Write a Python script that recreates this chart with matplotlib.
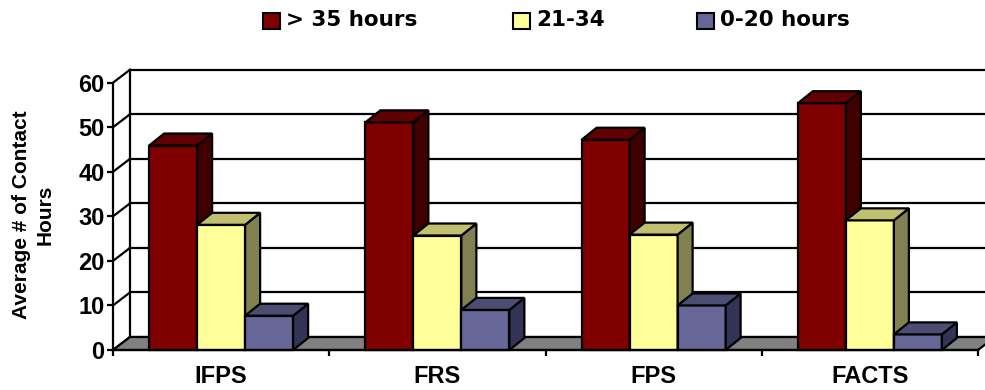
import matplotlib
matplotlib.use("Agg")
import matplotlib.pyplot as plt
from matplotlib.patches import Polygon, Rectangle

plt.rcParams['font.family'] = ['Liberation Sans', 'DejaVu Sans']
plt.rcParams['font.weight'] = 'bold'

categories = ["IFPS", "FRS", "FPS", "FACTS"]
series_names = ["> 35 hours", "21-34", "0-20 hours"]
over_35 = [45.9, 51.1, 47.2, 55.4]
hours_21_34 = [28.1, 25.7, 25.9, 29.1]
hours_0_20 = [7.7, 9.0, 10.0, 3.5]
y_ticks = [0, 10, 20, 30, 40, 50, 60]

series = [over_35, hours_21_34, hours_0_20]
# front, side, top shades per series
face_colors = ["#800000", "#FFFF99", "#666699"]
side_colors = ["#400000", "#808050", "#333355"]
top_colors = ["#600000", "#C0C070", "#4D4D73"]

W, H = 985, 390
fig = plt.figure(figsize=(W / 100, H / 100), dpi=100)
ax = fig.add_axes([113 / W, 40 / H, 865 / W, 267.3 / H])
ax.set_xlim(0, 4)
ax.set_ylim(0, 60)

px_x = 865 / 4          # pixels per category
px_y = 267.3 / 60       # pixels per unit
wall_dx, wall_dy = 17 / px_x, 13 / px_y
bar_dx, bar_dy = 15 / px_x, 12 / px_y
bar_w = 48 / px_x
lw = 1.6

# back wall gridlines and left wall diagonals
for v in y_ticks:
    ax.plot([wall_dx, 4 + wall_dx], [v + wall_dy, v + wall_dy], color="black",
            lw=lw, clip_on=False, zorder=1)
    ax.plot([0, wall_dx], [v, v + wall_dy], color="black", lw=lw,
            clip_on=False, zorder=1)
ax.plot([wall_dx, wall_dx], [wall_dy, 60 + wall_dy], color="black", lw=lw,
        clip_on=False, zorder=1)

# floor
ax.add_patch(Polygon([(0, 0), (4, 0), (4 + wall_dx, wall_dy), (wall_dx, wall_dy)],
                     closed=True, facecolor="#808080", edgecolor="black", lw=lw,
                     clip_on=False, zorder=2))

# 3D-looking bars, drawn left to right
z = 3
for i in range(len(categories)):
    for s, vals in enumerate(series):
        x0 = i + 0.5 - 1.5 * bar_w + s * bar_w
        x1 = x0 + bar_w
        v = vals[i]
        kw = dict(closed=True, edgecolor="black", lw=lw, clip_on=False,
                  joinstyle="miter")
        ax.add_patch(Polygon([(x0, 0), (x1, 0), (x1, v), (x0, v)],
                             facecolor=face_colors[s], zorder=z, **kw))
        ax.add_patch(Polygon([(x1, 0), (x1 + bar_dx, bar_dy),
                              (x1 + bar_dx, v + bar_dy), (x1, v)],
                             facecolor=side_colors[s], zorder=z, **kw))
        ax.add_patch(Polygon([(x0, v), (x1, v), (x1 + bar_dx, v + bar_dy),
                              (x0 + bar_dx, v + bar_dy)],
                             facecolor=top_colors[s], zorder=z, **kw))
        z += 1

# axes
for side in ["top", "right"]:
    ax.spines[side].set_visible(False)
for side in ["left", "bottom"]:
    ax.spines[side].set_linewidth(lw)
    ax.spines[side].set_zorder(50)
ax.patch.set_alpha(0)
ax.set_yticks(y_ticks)
ax.set_yticklabels([str(t) for t in y_ticks], fontsize=17, fontweight="bold")
ax.set_xticks([0, 1, 2, 3, 4])
ax.set_xticklabels([])
ax.set_xticks([0.5, 1.5, 2.5, 3.5], minor=True)
ax.set_xticklabels(categories, minor=True, fontsize=17, fontweight="bold")
ax.tick_params(axis="both", which="major", direction="out", length=4,
               width=lw, color="black")
ax.tick_params(axis="y", pad=2)
ax.tick_params(axis="x", which="minor", length=0, pad=11)

fig.text(33.5 / W, 1 - 215 / H, "Average # of Contact\nHours", rotation=90,
         ha="center", va="center", multialignment="center", fontsize=15,
         fontweight="bold", linespacing=1.3)

# legend row
legend_marks = [263, 513, 697]
for s, name in enumerate(series_names):
    xm = legend_marks[s]
    fig.patches.append(Rectangle((xm / W, 1 - 28.5 / H), 17 / W, 16 / H,
                                 transform=fig.transFigure, facecolor=face_colors[s],
                                 edgecolor="black", lw=1.5))
    fig.text((xm + 23) / W, 1 - 20.5 / H, name, ha="left", va="center",
             fontsize=15.5, fontweight="bold", family=["DejaVu Sans"])

fig.savefig("out.png", dpi=100)
